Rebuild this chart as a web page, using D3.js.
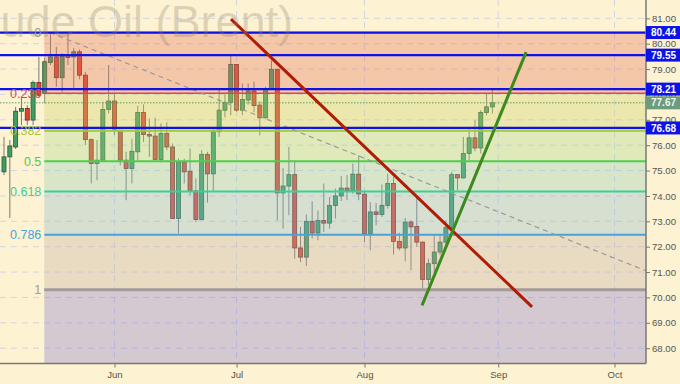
<!DOCTYPE html>
<html><head><meta charset="utf-8">
<script src="https://cdn.jsdelivr.net/npm/d3@7"></script>
<style>html,body{margin:0;padding:0;background:#fdf2d1;}svg{display:block;}</style>
</head><body>
<svg id="chart" width="680" height="384"></svg>
<script>
// ---- DATA ----
const dates = [
"2018-05-07","2018-05-08","2018-05-09","2018-05-10","2018-05-11","2018-05-14","2018-05-15","2018-05-16","2018-05-17","2018-05-18",
"2018-05-21","2018-05-22","2018-05-23","2018-05-24","2018-05-25","2018-05-28","2018-05-29","2018-05-30","2018-05-31",
"2018-06-01","2018-06-04","2018-06-05","2018-06-06","2018-06-07","2018-06-08","2018-06-11","2018-06-12","2018-06-13","2018-06-14","2018-06-15",
"2018-06-18","2018-06-19","2018-06-20","2018-06-21","2018-06-22","2018-06-25","2018-06-26","2018-06-27","2018-06-28","2018-06-29",
"2018-07-02","2018-07-03","2018-07-04","2018-07-05","2018-07-06","2018-07-09","2018-07-10","2018-07-11","2018-07-12","2018-07-13",
"2018-07-16","2018-07-17","2018-07-18","2018-07-19","2018-07-20","2018-07-23","2018-07-24","2018-07-25","2018-07-26","2018-07-27",
"2018-07-30","2018-07-31",
"2018-08-01","2018-08-02","2018-08-03","2018-08-06","2018-08-07","2018-08-08","2018-08-09","2018-08-10","2018-08-13","2018-08-14",
"2018-08-15","2018-08-16","2018-08-17","2018-08-20","2018-08-21","2018-08-22","2018-08-23","2018-08-24","2018-08-27","2018-08-28",
"2018-08-29","2018-08-30","2018-08-31"];
const open  = [74.95,75.54,75.93,77.34,77.45,76.99,78.47,78.04,79.26,79.48, 78.66,79.52,79.48,79.68,78.76,76.22,75.28,75.41,77.41,
  77.74,76.59,75.41,75.08,75.74,77.29,76.42,76.36,75.44,76.46,75.93, 73.11,75.34,74.97,74.20,73.07,75.64,74.87,76.53,77.38,77.69,
  79.18,77.38,77.78,78.14,77.58,77.08,78.22,78.99,74.12,74.39, 74.84,71.95,71.59,73.00,72.54,73.03,72.93,73.62,74.00,74.31,
  74.21,74.86, 74.07,72.52,73.37,73.27,73.63,74.49,72.21,71.95,72.97,72.80, 72.18,70.71,71.33,71.79,72.18,72.75,74.84,74.71,75.67,76.29,
  75.89,77.29,77.51];
const high  = [76.33,76.20,77.51,77.91,77.58,78.55,79.48,79.45,80.44,79.88, 79.62,80.44,79.82,79.78,78.89,76.26,76.20,77.71,79.16,
  78.00,76.60,75.74,76.26,77.55,77.61,77.05,77.08,76.86,76.90,76.07, 75.48,75.47,75.87,74.69,75.80,75.74,76.66,78.17,78.00,79.55,
  79.20,78.43,78.43,78.50,77.72,78.30,79.35,78.99,75.10,75.93, 75.34,72.78,73.27,73.79,73.43,74.49,73.96,74.29,74.79,74.82,
  75.28,75.60, 74.20,73.76,73.72,74.45,74.88,74.75,72.55,73.13,73.04,73.96, 72.21,71.53,72.48,72.48,73.04,74.95,74.84,76.33,76.66,76.99,
  77.38,78.01,78.17];
const low   = [74.82,73.13,75.85,76.79,76.79,76.79,77.91,77.65,79.16,78.30, 78.10,79.16,78.24,78.60,76.00,74.49,74.62,75.41,77.25,
  76.40,75.20,73.83,74.49,75.40,76.13,75.54,75.41,75.32,75.80,73.11, 72.52,74.49,74.03,72.97,73.04,73.74,74.16,76.33,77.10,77.18,
  77.31,77.18,77.60,77.30,76.39,77.05,78.17,73.04,72.71,73.24, 71.53,71.39,71.24,72.32,72.25,72.58,72.71,73.11,73.80,73.83,
  74.09,73.83, 72.18,71.86,72.84,73.17,73.50,71.69,71.86,71.42,71.07,71.99, 70.34,70.48,71.00,71.66,71.99,72.52,74.22,74.69,75.41,75.76,
  75.67,77.18,77.25];
const close = [75.54,75.97,77.34,77.45,76.99,78.47,77.97,79.29,79.48,78.66, 79.51,79.46,79.68,78.76,76.22,75.28,75.41,77.41,77.74,
  76.63,75.41,75.08,75.76,77.29,76.42,76.36,75.44,76.46,75.93,73.11, 75.34,74.95,74.20,73.07,75.64,74.87,76.53,77.38,77.69,79.18,
  77.38,77.80,78.14,77.56,77.08,78.22,78.99,74.12,74.39,74.84, 71.95,71.59,73.00,72.54,73.03,72.93,73.62,74.00,74.31,74.21,
  74.86,74.08, 72.52,73.37,73.27,73.63,74.49,72.21,71.95,72.97,72.78,72.18, 70.71,71.33,71.79,72.18,72.75,74.84,74.71,75.67,76.29,75.89,
  77.29,77.51,77.67];

const fibLevels = [0, 0.236, 0.382, 0.5, 0.618, 0.786, 1];
const fibLabels = ["0", "0.236", "0.382", "0.5", "0.618", "0.786", "1"];
const fibHigh = 80.44, fibLow = 70.30;
const levelPrices = [80.44, 79.55, 78.21, 76.68];
const lastPrice = 77.67;
const yTickValues = [68,69,70,71,72,73,74,75,76,77,78,79,80,81];
const monthTickDates = ["2018-06-01","2018-07-02","2018-08-01","2018-09-03","2018-10-01"];
const monthTickLabels = ["Jun","Jul","Aug","Sep","Oct"];
// trend lines: [trading-day index, price]
const redTrend   = [[39.04, 80.97], [90.82, 69.63]];
const greenTrend = [[71.9, 69.69], [89.8, 79.67]];
const dashTrend  = [[7.9, 80.44], [110.42, 71.05]];
const fibStartIndex = 6.93;
const titleText = "Crude Oil (Brent)";

// ---- STYLE ----
const W = 680, H = 384, plotR = 646, plotB = 363.5;
const zoneFill = ["rgb(227,120,94)","rgb(204,212,105)","rgb(167,217,139)","rgb(147,206,185)","rgb(142,189,208)","rgb(193,177,162)","rgb(136,126,208)"];
const fibColor = ["#9a9a9a","#e04848","#a4c83a","#4ccf4c","#3ccf98","#4aa2dc","#a49a9a"];
const fibWidth = [1.5,1.5,2,2,2,2,3];

const svg = d3.select("#chart");
const parse = d3.utcParse("%Y-%m-%d");
const t0 = parse(dates[0]);
function tradingIndex(ds) {
  const d = parse(ds);
  return d3.utcDay.range(t0, d).filter(x => x.getUTCDay() !== 0 && x.getUTCDay() !== 6).length;
}

const x = d3.scaleLinear().domain([-0.688, 110.42]).range([0, plotR]);
const y = d3.scaleLinear().domain([67.397, 81.722]).range([plotB, 0]);

svg.append("rect").attr("width", W).attr("height", H).attr("fill", "#fdf2d1");

// clip
svg.append("clipPath").attr("id","clip").append("rect").attr("x",0).attr("y",0).attr("width",plotR).attr("height",plotB);
const plot = svg.append("g").attr("clip-path","url(#clip)");

// grid
const monthIdx = monthTickDates.map(tradingIndex);
plot.append("g").selectAll("line").data(yTickValues).join("line")
  .attr("x1",0).attr("x2",plotR).attr("y1",d=>y(d)).attr("y2",d=>y(d))
  .attr("stroke","#d3d3e6").attr("stroke-width",1).attr("stroke-dasharray","6,5");
plot.append("g").selectAll("line").data(monthIdx).join("line")
  .attr("x1",d=>x(d)).attr("x2",d=>x(d)).attr("y1",0).attr("y2",plotB)
  .attr("stroke","#d3d3e6").attr("stroke-width",1).attr("stroke-dasharray","6,5");

// candles
const candles = dates.map((d,i)=>({i, o:open[i], h:high[i], l:low[i], c:close[i]}));
const cg = plot.append("g");
cg.selectAll("line.w").data(candles).join("line").attr("class","w")
  .attr("x1",d=>x(d.i)).attr("x2",d=>x(d.i)).attr("y1",d=>y(d.h)).attr("y2",d=>y(d.l))
  .attr("stroke","#7a7a7a").attr("stroke-width",1);
const bw = 4;
cg.selectAll("rect").data(candles).join("rect")
  .attr("x",d=>x(d.i)-bw/2).attr("width",bw)
  .attr("y",d=>y(Math.max(d.o,d.c)))
  .attr("height",d=>Math.max(1, Math.abs(y(d.o)-y(d.c))))
  .attr("fill",d=>d.c>=d.o ? "#3f9d63" : "#e0442e")
  .attr("stroke",d=>d.c>=d.o ? "#2b5a3a" : "#6a2a20").attr("stroke-width",0.8);

// fib zones
const fibPrice = fibLevels.map(l => fibHigh - l*(fibHigh-fibLow));
const zoneBounds = fibPrice.map((p,k)=>[p, k<fibPrice.length-1 ? fibPrice[k+1] : y.domain()[0]]);
const xz = x(fibStartIndex);
plot.append("g").selectAll("rect").data(zoneBounds).join("rect")
  .attr("x",xz).attr("width",plotR-xz)
  .attr("y",d=>y(d[0])).attr("height",d=>y(d[1])-y(d[0]))
  .attr("fill",(d,k)=>zoneFill[k]).attr("fill-opacity",0.35);
plot.append("g").selectAll("line").data(fibPrice).join("line")
  .attr("x1",xz).attr("x2",plotR).attr("y1",d=>y(d)).attr("y2",d=>y(d))
  .attr("stroke",(d,k)=>fibColor[k]).attr("stroke-width",(d,k)=>fibWidth[k]);
svg.append("g").selectAll("text").data(fibPrice).join("text")
  .attr("x",xz-3).attr("y",d=>y(d)).attr("dy","0.36em").attr("text-anchor","end")
  .attr("font-family","Liberation Sans, Arial, sans-serif").attr("font-size",12.5)
  .attr("fill",(d,k)=>fibColor[k]).text((d,k)=>fibLabels[k]);

// dashed trend
const line = d3.line().x(d=>x(d[0])).y(d=>y(d[1]));
plot.append("path").attr("d",line(dashTrend)).attr("stroke","#9a9a9a").attr("stroke-width",1.2)
  .attr("stroke-dasharray","5,4").attr("fill","none");

// title
svg.append("text").attr("x",-47).attr("y",37).attr("font-family","Liberation Sans, Arial, sans-serif")
  .attr("font-size",45).attr("fill","#8a8070").attr("fill-opacity",0.28).text(titleText);

// current price dotted
plot.append("line").attr("x1",0).attr("x2",plotR).attr("y1",y(lastPrice)).attr("y2",y(lastPrice))
  .attr("stroke","#5e9e64").attr("stroke-width",1).attr("stroke-dasharray","1.5,1.5");

// blue level lines
plot.append("g").selectAll("line").data(levelPrices).join("line")
  .attr("x1",0).attr("x2",plotR).attr("y1",d=>y(d)).attr("y2",d=>y(d))
  .attr("stroke","#0d12e6").attr("stroke-width",2.2);

// trend lines
plot.append("path").attr("d",line(redTrend)).attr("stroke","#b01c04").attr("stroke-width",3).attr("fill","none");
plot.append("path").attr("d",line(greenTrend)).attr("stroke","#3c8a1e").attr("stroke-width",3).attr("fill","none");

// axes
const yAxis = d3.axisRight(y).tickValues(yTickValues).tickSize(4).tickPadding(2).tickFormat(d3.format(".2f"));
const ya = svg.append("g").attr("transform",`translate(${plotR},0)`).call(yAxis);
ya.select(".domain").attr("stroke","#777").attr("stroke-width",1.5).attr("d",`M0,0V${plotB}`);
ya.selectAll(".tick line").attr("stroke","#777");
ya.selectAll(".tick text").attr("fill","#555").attr("font-size",9.6).attr("font-family","Liberation Sans, Arial, sans-serif");

const xAxis = d3.axisBottom(x).tickValues(monthIdx).tickSize(4).tickPadding(4).tickFormat((d,k)=>monthTickLabels[k]);
const xa = svg.append("g").attr("transform",`translate(0,${plotB})`).call(xAxis);
xa.select(".domain").attr("stroke","#777").attr("stroke-width",1.5).attr("d",`M0,0H${plotR}`);
xa.selectAll(".tick line").attr("stroke","#777");
xa.selectAll(".tick text").attr("fill","#555").attr("font-size",9.6).attr("font-family","Liberation Sans, Arial, sans-serif");

// price boxes
const boxes = levelPrices.map(p=>({p, fill:"#0d12e6", tc:"#ffffff"})).concat([{p:lastPrice, fill:"#6c9c7c", tc:"#eef5ee"}]);
const bg = svg.append("g").selectAll("g").data(boxes).join("g").attr("transform",d=>`translate(${plotR},${y(d.p)})`);
bg.append("rect").attr("x",0).attr("y",-6.5).attr("width",W-plotR).attr("height",13).attr("fill",d=>d.fill);
bg.append("text").attr("x",5).attr("dy","0.36em").attr("fill",d=>d.tc).attr("font-weight","bold")
  .attr("font-size",10).attr("font-family","Liberation Sans, Arial, sans-serif").text(d=>d3.format(".2f")(d.p));
</script>
</body></html>
